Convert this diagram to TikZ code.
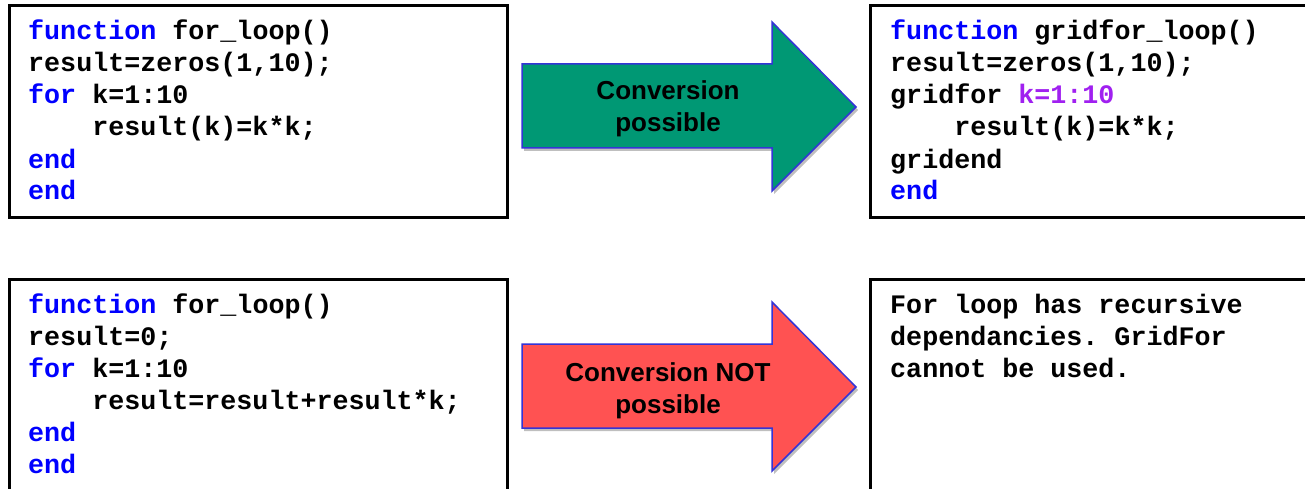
\documentclass[tikz,border=0pt]{standalone}
\usepackage{fontspec}
\setmonofont{Liberation Mono}
\newfontfamily\arialfont{Liberation Sans}
\usetikzlibrary{shadows}
\definecolor{kwblue}{RGB}{0,0,255}
\definecolor{kwpurple}{RGB}{160,32,240}
\definecolor{arrgreen}{RGB}{0,152,116}
\definecolor{arrred}{RGB}{255,82,82}
\definecolor{arredge}{RGB}{52,52,214}
\newcommand{\kw}[1]{\textcolor{kwblue}{#1}}
\newcommand{\kp}[1]{\textcolor{kwpurple}{#1}}
\begin{document}
\begin{tikzpicture}[x=1pt,y=-1pt,
  codebox/.style={draw=black,line width=3pt,fill=white},
  codeline/.style={anchor=base west,inner sep=0pt,font=\fontsize{26.7}{32}\selectfont\ttfamily\bfseries},
  bigarrow/.style={draw=arredge,line width=1.5pt,line join=miter,
    drop shadow={shadow xshift=2pt,shadow yshift=-3pt,opacity=0.25,fill=black}},
  arrowtext/.style={anchor=base,inner sep=0pt,font=\fontsize{26}{32}\selectfont\arialfont\bfseries}
]
\useasboundingbox (0,0) rectangle (1305,489);
\clip (0,0) rectangle (1305,489);
\fill[white] (0,0) rectangle (1305,489);

% boxes
\draw[codebox] (9.5,5.5) rectangle (507.5,217.5);
\draw[codebox] (870.5,5.5) rectangle (1330,217.5);
\draw[codebox] (9.5,279.5) rectangle (507.5,520);
\draw[codebox] (870.5,279.5) rectangle (1330,520);

% top-left code
\node[codeline] (a1) at (28,40)  {\kw{function} for\_loop()};
\node[codeline] (a2) at (28,72)  {result=zeros(1,10);};
\node[codeline] (a3) at (28,104) {\kw{for} k=1:10};
\node[codeline] (a4) at (28,136) {\phantom{0000}result(k)=k*k;};
\node[codeline] (a5) at (28,168) {\kw{end}};
\node[codeline] (a6) at (28,200) {\kw{end}};

% top-right code
\node[codeline] (b1) at (890,40)  {\kw{function} gridfor\_loop()};
\node[codeline] (b2) at (890,72)  {result=zeros(1,10);};
\node[codeline] (b3) at (890,104) {gridfor \kp{k=1:10}};
\node[codeline] (b4) at (890,136) {\phantom{0000}result(k)=k*k;};
\node[codeline] (b5) at (890,168) {gridend};
\node[codeline] (b6) at (890,200) {\kw{end}};

% bottom-left code
\node[codeline] (c1) at (28,313) {\kw{function} for\_loop()};
\node[codeline] (c2) at (28,345) {result=0;};
\node[codeline] (c3) at (28,377) {\kw{for} k=1:10};
\node[codeline] (c4) at (28,409) {\phantom{0000}result=result+result*k;};
\node[codeline] (c5) at (28,441) {\kw{end}};
\node[codeline] (c6) at (28,473) {\kw{end}};

% bottom-right text
\node[codeline] (d1) at (890,313) {For loop has recursive};
\node[codeline] (d2) at (890,345) {dependancies. GridFor};
\node[codeline] (d3) at (890,377) {cannot be used.};

% arrows
\path[bigarrow,fill=arrgreen] (522,64) -- (772,64) -- (772,22) -- (856,107)
  -- (772,191) -- (772,148) -- (522,148) -- cycle;
\node[arrowtext] (g1) at (668,100) {Conversion};
\node[arrowtext] (g2) at (668,132) {possible};

\path[bigarrow,fill=arrred] (522,344) -- (772,344) -- (772,302) -- (856,387)
  -- (772,471) -- (772,428) -- (522,428) -- cycle;
\node[arrowtext] (r1) at (668,381) {Conversion NOT};
\node[arrowtext] (r2) at (668,413) {possible};
\end{tikzpicture}
\end{document}
